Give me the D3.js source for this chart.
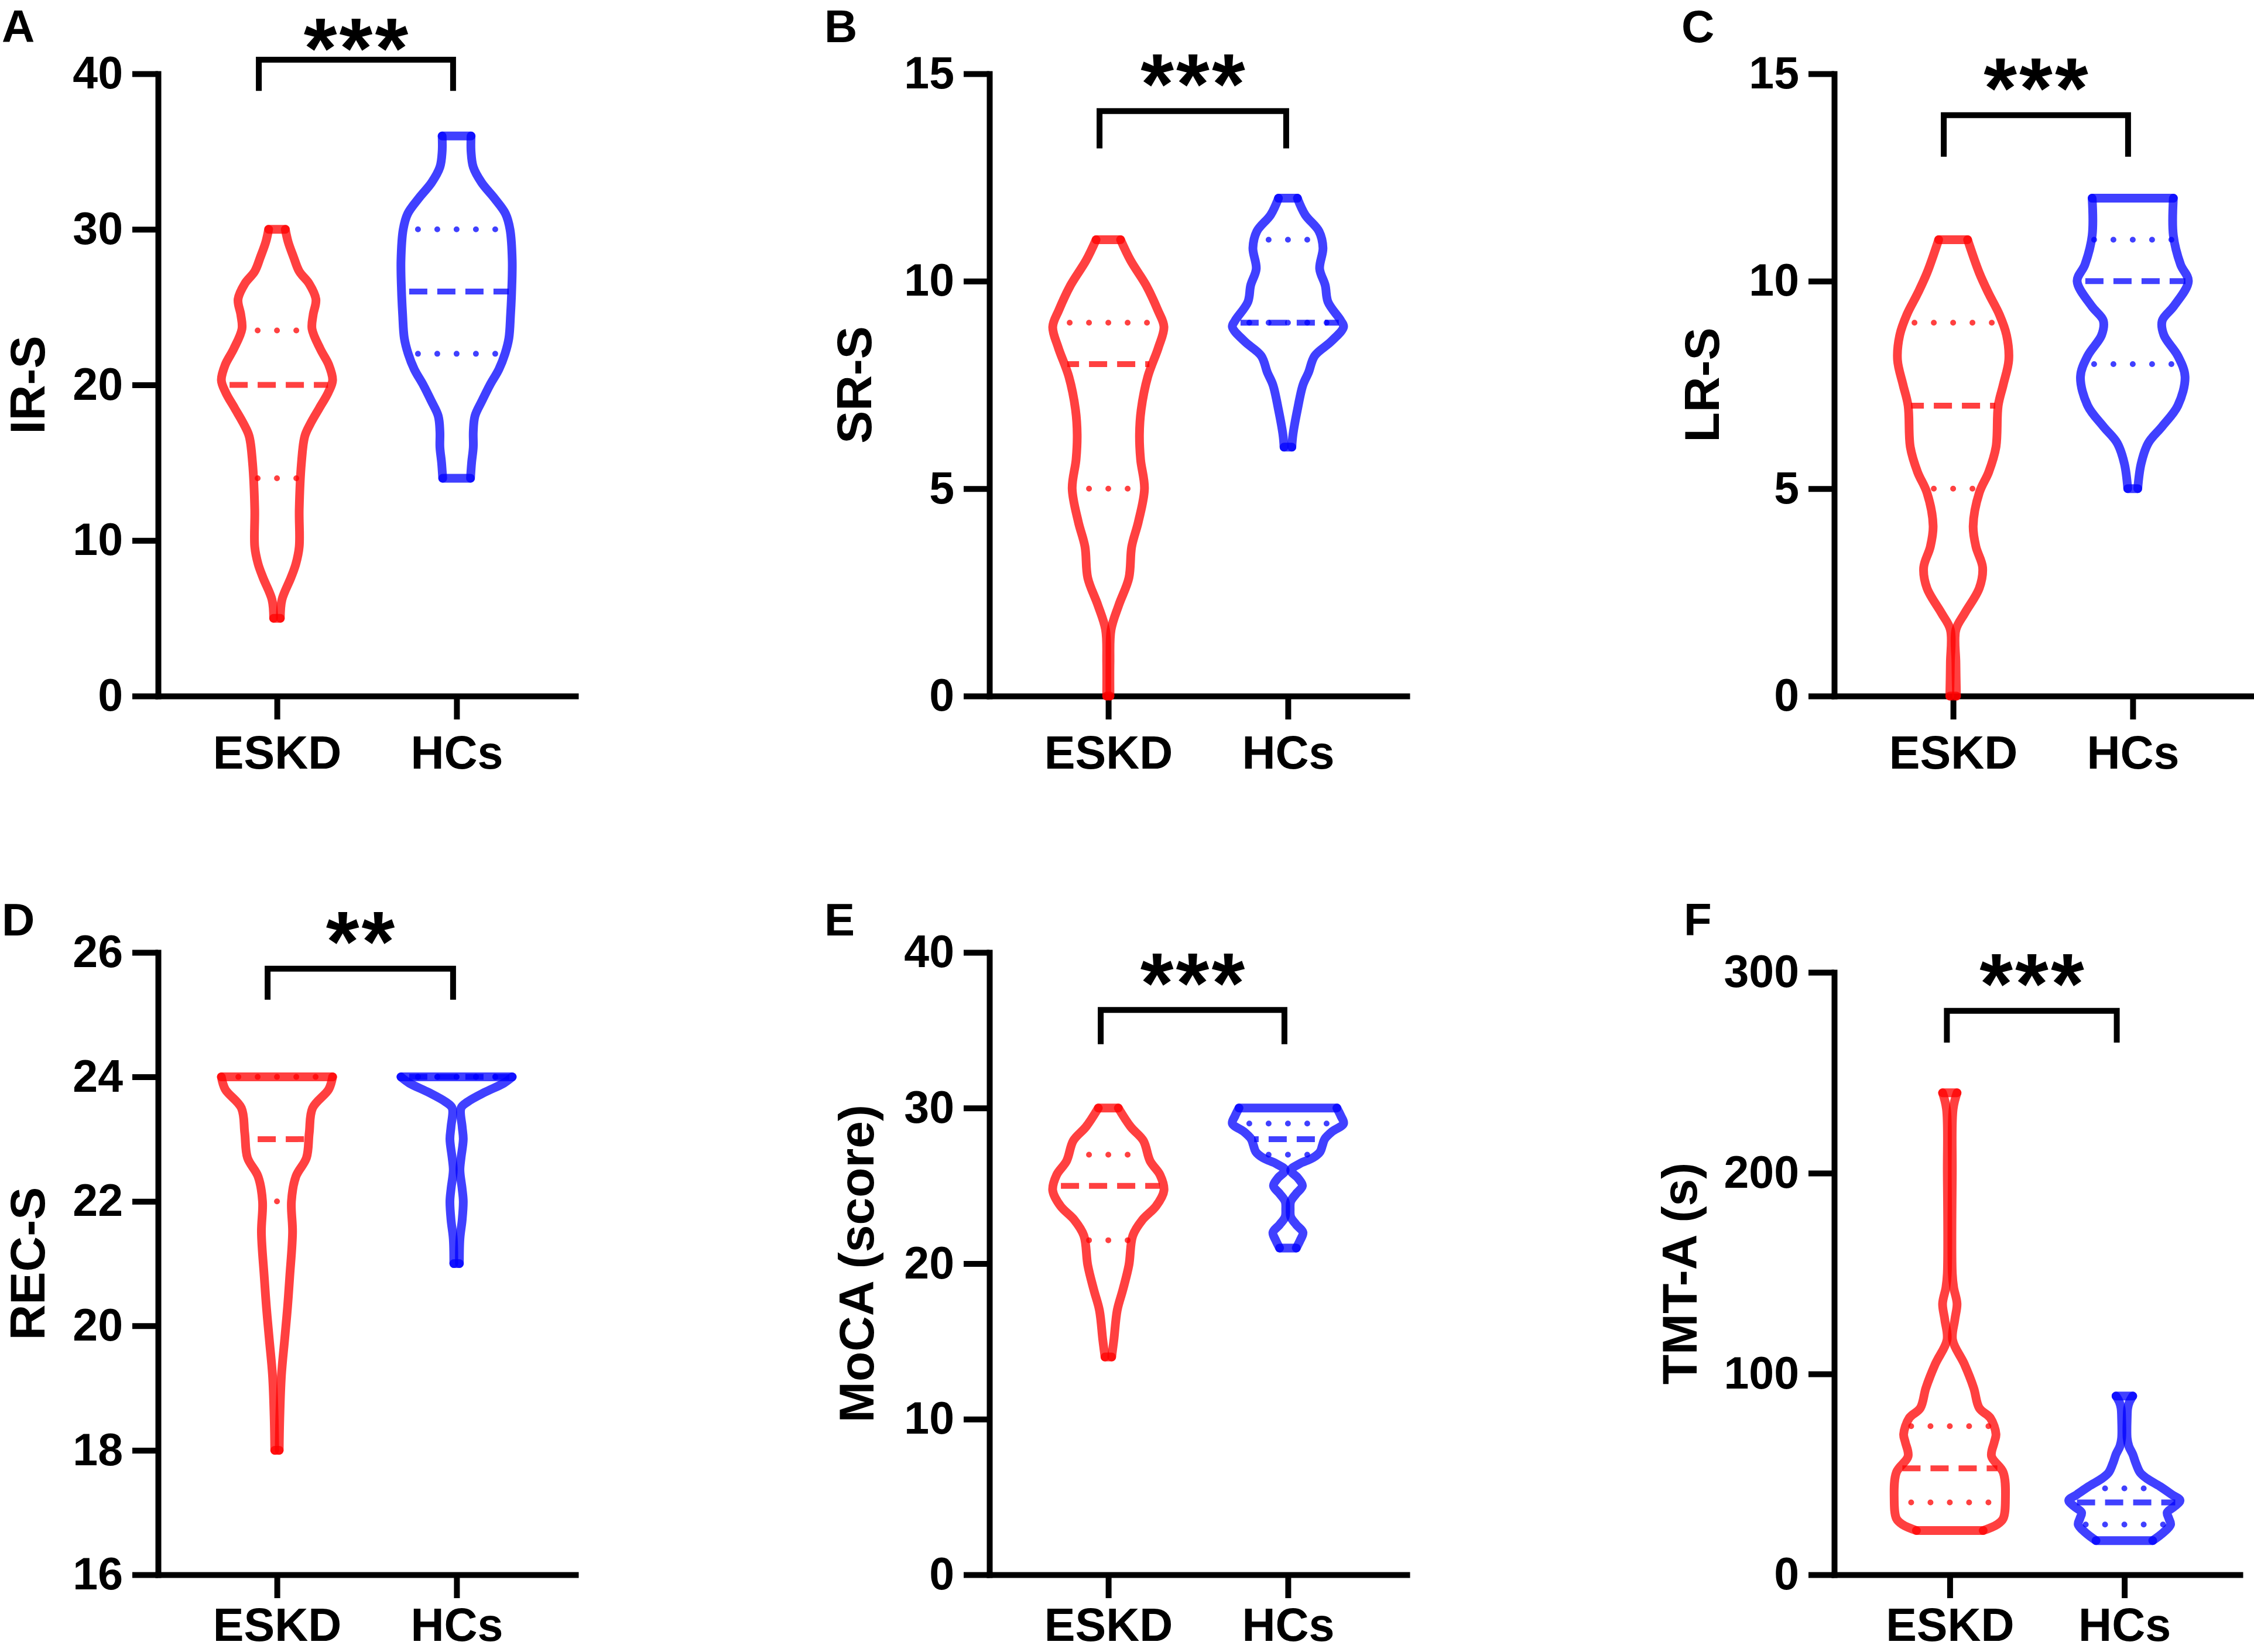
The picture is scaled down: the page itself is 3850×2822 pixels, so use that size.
<!DOCTYPE html>
<html>
<head>
<meta charset="utf-8">
<script src="https://cdn.jsdelivr.net/npm/d3@7"></script>
<style>
  html, body { margin: 0; padding: 0; background: #fff; }
  svg { display: block; }
  text { font-family: "Liberation Sans", Arial, Helvetica, sans-serif; font-weight: bold; fill: #000; }
</style>
</head>
<body>
<svg id="fig" width="3850" height="2822"></svg>
<script>
// ---------------------------------------------------------------------------
// Six violin panels, ESKD vs HCs. Violin outlines are read off the figure as
// [value, relative density] pairs; quartiles are [Q1, median, Q3].
// ---------------------------------------------------------------------------

const GROUPS = ["ESKD", "HCs"];
const PANEL_LETTERS = ["A", "B", "C", "D", "E", "F"];
const Y_LABELS = ["IR-S", "SR-S", "LR-S", "REC-S", "MoCA (score)", "TMT-A (s)"];
const Y_DOMAINS = [[0, 40], [0, 15], [0, 15], [16, 26], [0, 40], [0, 300]];
const Y_TICKS = [
  [0, 10, 20, 30, 40],
  [0, 5, 10, 15],
  [0, 5, 10, 15],
  [16, 18, 20, 22, 24, 26],
  [0, 10, 20, 30, 40],
  [0, 100, 200, 300],
];
const SIG_LABELS = ["***", "***", "***", "**", "***", "***"];
// significance bracket: bar height and foot of the legs, in data units
const BRACKET_TOP = [40.9, 14.1, 14.0, 25.74, 36.3, 280.8];
const BRACKET_FOOT = [38.9, 13.2, 13.0, 25.24, 34.1, 265];

// violin outlines, [value, density (max = 1)], ascending by value
const ESKD_PROFILES = [
  [[5, 0.06], [6.2, 0.09], [7.6, 0.25], [8.5, 0.34], [9.6, 0.4], [12, 0.4], [15, 0.44], [16.7, 0.5],
   [17.5, 0.6], [18.5, 0.76], [19.5, 0.92], [20.3, 1.0], [21.3, 0.93], [22.3, 0.78], [23.6, 0.63],
   [24.5, 0.65], [25.5, 0.7], [26.5, 0.58], [27.3, 0.4], [28.2, 0.3], [29.2, 0.2], [30, 0.15]],
  [[0, 0.03], [0.8, 0.03], [1.6, 0.05], [2.2, 0.19], [2.85, 0.37], [3.6, 0.42], [4.2, 0.54], [5, 0.65],
   [5.7, 0.58], [6.3, 0.56], [6.9, 0.59], [7.7, 0.71], [8.4, 0.9], [8.9, 1.0], [9.3, 0.89], [9.9, 0.68],
   [10.5, 0.4], [11, 0.22]],
  [[0, 0.06], [0.8, 0.05], [1.6, 0.05], [2, 0.21], [2.6, 0.47], [3.1, 0.53], [3.6, 0.41], [4.1, 0.36],
   [4.9, 0.47], [5.4, 0.64], [6, 0.77], [7, 0.81], [7.5, 0.9], [8.1, 1.0], [8.7, 0.96], [9.2, 0.83],
   [9.7, 0.64], [10.2, 0.47], [11, 0.26]],
  [[18, 0.04], [18.5, 0.05], [19.2, 0.08], [19.8, 0.14], [20.3, 0.19], [20.8, 0.23], [21.5, 0.28],
   [22, 0.26], [22.4, 0.34], [22.7, 0.53], [23.1, 0.58], [23.5, 0.64], [23.8, 0.93], [24, 1.0]],
  [[14, 0.06], [15.1, 0.1], [17, 0.16], [18.3, 0.26], [19.9, 0.37], [21.8, 0.44], [22.8, 0.61],
   [23.7, 0.86], [24.7, 1.0], [25.7, 0.93], [26.6, 0.75], [27.9, 0.63], [28.8, 0.4], [30, 0.18]],
  [[22, 0.6], [25, 0.85], [28, 0.96], [38, 1.0], [51, 0.96], [59, 0.75], [66, 0.8], [70, 0.83],
   [78, 0.73], [83, 0.53], [93, 0.43], [105, 0.26], [117, 0.05], [127, 0.09], [135, 0.13],
   [143, 0.07], [150, 0.045], [200, 0.045], [232, 0.06], [240, 0.13]],
];

const HCS_PROFILES = [
  [[14, 0.25], [15, 0.27], [16, 0.3], [17, 0.3], [18, 0.33], [19, 0.46], [20, 0.6], [21, 0.76],
   [22, 0.87], [23, 0.94], [24.5, 0.97], [26, 0.99], [28, 1.0], [30, 0.96], [31, 0.88], [32, 0.68],
   [33, 0.45], [34, 0.3], [35, 0.26], [36, 0.26]],
  [[6, 0.07], [6.3, 0.09], [6.9, 0.17], [7.5, 0.27], [7.8, 0.37], [8.2, 0.48], [8.55, 0.78], [8.9, 1.0],
   [9.05, 0.95], [9.5, 0.72], [9.9, 0.67], [10.3, 0.57], [10.8, 0.63], [11.2, 0.56], [11.6, 0.31],
   [12, 0.17]],
  [[5, 0.09], [5.6, 0.15], [6.1, 0.28], [6.5, 0.53], [7, 0.81], [7.7, 0.94], [8.2, 0.81], [8.7, 0.56],
   [9.05, 0.53], [9.4, 0.74], [10, 1.0], [10.4, 0.86], [11.1, 0.73], [12, 0.73]],
  [[21, 0.05], [21.4, 0.06], [21.7, 0.1], [22, 0.12], [22.2, 0.1], [22.5, 0.06], [22.7, 0.08],
   [23, 0.12], [23.2, 0.1], [23.5, 0.08], [23.6, 0.2], [23.75, 0.5], [23.9, 0.85], [24, 1.0]],
  [[21, 0.15], [21.5, 0.22], [22, 0.27], [22.5, 0.15], [23, 0.05], [23.5, 0.04], [24, 0.05],
   [24.5, 0.15], [25, 0.26], [25.5, 0.18], [26, 0.05], [26.4, 0.2], [26.8, 0.45], [27.2, 0.58],
   [27.6, 0.62], [28, 0.66], [28.5, 0.8], [29, 1.0], [29.5, 0.95], [30, 0.88]],
  [[17, 0.51], [21, 0.7], [25, 0.83], [28, 0.8], [31, 0.77], [34, 0.9], [37, 1.0], [40, 0.85],
   [44, 0.64], [48, 0.4], [51, 0.28], [56, 0.2], [60, 0.15], [64, 0.08], [68, 0.05], [78, 0.05],
   [83, 0.06], [86, 0.09], [89, 0.15]],
];

// [Q1, median, Q3]
const ESKD_QUARTILES = [[14, 20, 23.5], [5, 8, 9], [5, 7, 9], [22, 23, 24], [21.5, 25, 27], [36, 53, 74]];
const HCS_QUARTILES = [[22, 26, 30], [9, 9, 11], [8, 10, 11], [24, 24, 24], [27, 28, 29], [25, 36, 43]];

const COLORS = { ESKD: "#ff0000", HCs: "#0000ff" };

// ---------------------------------------------------------------------------
// Layout (pixels); bl / br nudge the bracket legs off the category centres,
// catPad is the gap under the x ticks (bottom row sits against the page edge)
// ---------------------------------------------------------------------------
const LAYOUT = [
  { x0: 270,  w: 713, top: 126,  bottom: 1189, letterX: 3,    letterY: 72,   titleX: 46,   bl: -31, br: -6,  catPad: 28 },
  { x0: 1690, w: 713, top: 126,  bottom: 1189, letterX: 1408, letterY: 72,   titleX: 1458, bl: -15, br: -3,  catPad: 28 },
  { x0: 3133, w: 713, top: 126,  bottom: 1189, letterX: 2872, letterY: 72,   titleX: 2906, bl: -16, br: -8,  catPad: 28 },
  { x0: 270,  w: 713, top: 1627, bottom: 2690, letterX: 3,    letterY: 1598, titleX: 46,   bl: -16, br: -6,  catPad: 17 },
  { x0: 1690, w: 713, top: 1627, bottom: 2690, letterX: 1408, letterY: 1598, titleX: 1462, bl: -13, br: -6,  catPad: 17 },
  { x0: 3133, w: 693, top: 1661, bottom: 2690, letterX: 2876, letterY: 1598, titleX: 2868, bl: -5,  br: -13, catPad: 17 },
];

const AXIS_W = 10;
const VIOLIN_W = 15;
const MAX_HALF = 95;      // half width of a violin at density 1
const INK_OPACITY = 0.75;
const SIG_SIZE = 146;

const svg = d3.select("#fig");
const halfScale = d3.scaleLinear().domain([0, 1]).range([0, MAX_HALF]);
const outline = d3.line().curve(d3.curveCatmullRom.alpha(0.5));

function densityAt(profile, v) {
  if (v <= profile[0][0]) return profile[0][1];
  for (let i = 0; i < profile.length - 1; i++) {
    const [v0, d0] = profile[i], [v1, d1] = profile[i + 1];
    if (v >= v0 && v <= v1) return d0 + (d1 - d0) * (v - v0) / (v1 - v0 || 1);
  }
  return profile[profile.length - 1][1];
}

function drawViolin(g, profile, quart, cx, y, color) {
  const left = profile.map(([v, d]) => [cx - halfScale(d), y(v)]);
  const right = profile.map(([v, d]) => [cx + halfScale(d), y(v)]);
  const vg = g.append("g")
    .attr("fill", "none")
    .attr("stroke", color)
    .attr("stroke-opacity", INK_OPACITY);

  // each side and each flat end drawn separately so overlaps darken like the original
  [left, right].forEach((pts) => {
    vg.append("path").attr("d", outline(pts))
      .attr("stroke-width", VIOLIN_W).attr("stroke-linejoin", "round").attr("stroke-linecap", "round");
  });
  [0, profile.length - 1].forEach((i) => {
    vg.append("line")
      .attr("x1", left[i][0]).attr("x2", right[i][0])
      .attr("y1", left[i][1]).attr("y2", right[i][1])
      .attr("stroke-width", VIOLIN_W).attr("stroke-linecap", "round");
  });

  // quartile lines: dotted Q1/Q3, dashed median
  quart.forEach((q, k) => {
    const hw = Math.max(halfScale(densityAt(profile, q)) - 5, 0);
    const len = 2 * hw;
    const dotted = k !== 1;
    const period = dotted ? 33 : 48;
    vg.append("line")
      .attr("x1", cx - hw).attr("x2", cx + hw)
      .attr("y1", y(q)).attr("y2", y(q))
      .attr("stroke-width", 10)
      .attr("stroke-linecap", dotted ? "round" : "butt")
      .attr("stroke-dasharray", dotted ? "0 33" : "31 17")
      .attr("stroke-dashoffset", dotted ? period - ((len / 2) % period) : period - ((len / 2 + 15) % period));
  });
}

function styleAxis(sel) {
  sel.attr("font-size", null).attr("font-family", null);
  sel.selectAll(".domain").attr("stroke", "#000").attr("stroke-width", AXIS_W).attr("stroke-linecap", "square");
  sel.selectAll(".tick line").attr("stroke", "#000").attr("stroke-width", AXIS_W);
}

PANEL_LETTERS.forEach((letter, i) => {
  const L = LAYOUT[i];
  const g = svg.append("g").attr("class", "panel panel-" + letter);

  const y = d3.scaleLinear().domain(Y_DOMAINS[i]).range([L.bottom, L.top]);
  const x = d3.scalePoint().domain(GROUPS).range([L.x0, L.x0 + L.w]).padding(0.662);

  // axes
  const yAx = g.append("g").attr("transform", `translate(${L.x0},0)`)
    .call(d3.axisLeft(y).tickValues(Y_TICKS[i]).tickSize(44).tickPadding(16).tickSizeOuter(0))
    .call(styleAxis);
  yAx.selectAll(".tick text").attr("font-size", 77).attr("fill", "#000");

  const xAx = g.append("g").attr("transform", `translate(0,${L.bottom})`)
    .call(d3.axisBottom(x).tickSize(40).tickPadding(L.catPad).tickSizeOuter(0))
    .call(styleAxis);
  xAx.selectAll(".tick text").attr("font-size", 79).attr("fill", "#000");

  // violins
  drawViolin(g, ESKD_PROFILES[i], ESKD_QUARTILES[i], x("ESKD"), y, COLORS.ESKD);
  drawViolin(g, HCS_PROFILES[i], HCS_QUARTILES[i], x("HCs"), y, COLORS.HCs);

  // significance bracket
  const bx1 = x("ESKD") + L.bl, bx2 = x("HCs") + L.br;
  const by = y(BRACKET_TOP[i]), bf = y(BRACKET_FOOT[i]);
  g.append("path")
    .attr("d", `M${bx1},${bf}V${by}H${bx2}V${bf}`)
    .attr("fill", "none").attr("stroke", "#000").attr("stroke-width", AXIS_W)
    .attr("stroke-linejoin", "miter");
  // baseline kept low enough that the text box stays inside the page
  const sigBase = Math.max(by - 70 + 0.51 * SIG_SIZE, 0.91 * SIG_SIZE);
  g.append("text")
    .attr("x", (bx1 + bx2) / 2 + 2).attr("y", sigBase)
    .attr("text-anchor", "middle").attr("font-size", SIG_SIZE)
    .attr("letter-spacing", 4)
    .text(SIG_LABELS[i]);

  // axis title
  const cy = (L.top + L.bottom) / 2;
  g.append("text")
    .attr("transform", `translate(${L.titleX},${cy}) rotate(-90)`)
    .attr("dy", "0.36em").attr("text-anchor", "middle").attr("font-size", 84)
    .text(Y_LABELS[i]);

  // panel letter
  g.append("text")
    .attr("x", L.letterX).attr("y", L.letterY)
    .attr("font-size", 78)
    .text(letter);
});
</script>
</body>
</html>
